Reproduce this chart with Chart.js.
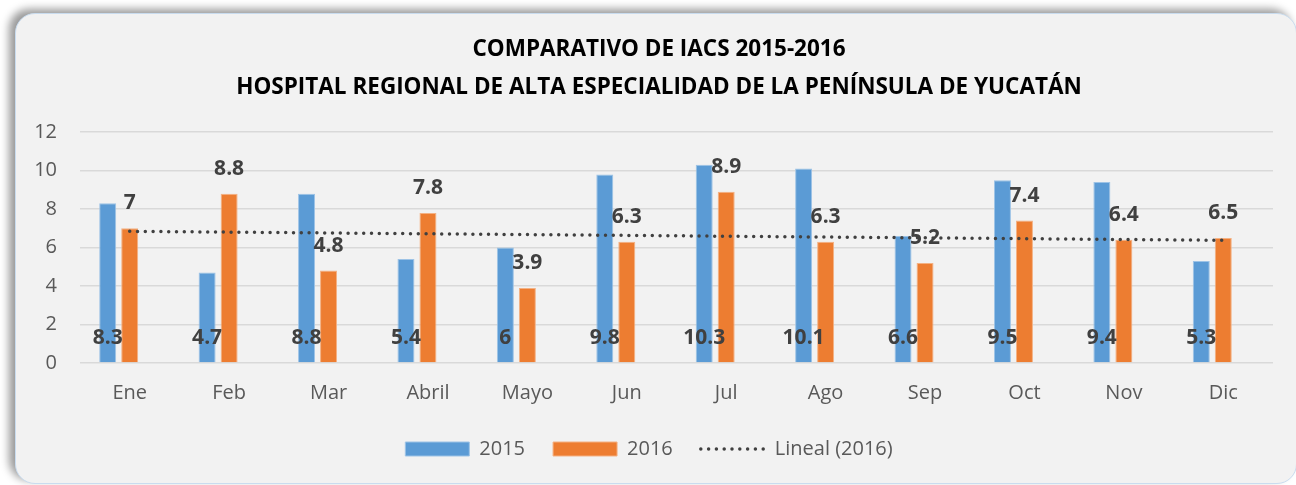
<!DOCTYPE html>
<html>
<head>
<meta charset="utf-8">
<script src="https://cdn.jsdelivr.net/npm/chart.js@4"></script>
<style>
  html, body { margin: 0; padding: 0; background: #ffffff; }
  .frame {
    position: absolute;
    left: 15px;
    top: 13px;
    width: 1280px;
    height: 469px;
    background: #f2f2f2;
    border: 1px solid #c9dcef;
    border-radius: 20px;
    box-shadow: -6px -4px 8px rgba(0, 0, 0, 0.4);
  }
  #chart { position: absolute; left: 0; top: 0; }
</style>
</head>
<body>
<div class="frame"></div>
<canvas id="chart" width="1296" height="485"></canvas>
<script>
const months = ["Ene", "Feb", "Mar", "Abril", "Mayo", "Jun", "Jul", "Ago", "Sep", "Oct", "Nov", "Dic"];
const values2015 = [8.3, 4.7, 8.8, 5.4, 6, 9.8, 10.3, 10.1, 6.6, 9.5, 9.4, 5.3];
const values2016 = [7, 8.8, 4.8, 7.8, 3.9, 6.3, 8.9, 6.3, 5.2, 7.4, 6.4, 6.5];
const yTicks = [0, 2, 4, 6, 8, 10, 12];
const titleLines = [
  "COMPARATIVO DE IACS 2015-2016",
  "HOSPITAL REGIONAL DE ALTA ESPECIALIDAD DE LA PENÍNSULA DE YUCATÁN",
];

// linear trendline of 2016 (same as Excel "Lineal")
const linearTrend = (ys) => {
  const n = ys.length;
  let sx = 0, sy = 0, sxy = 0, sxx = 0;
  ys.forEach((y, i) => {
    const x = i + 1;
    sx += x; sy += y; sxy += x * y; sxx += x * x;
  });
  const slope = (n * sxy - sx * sy) / (n * sxx - sx * sx);
  const icpt = (sy - slope * sx) / n;
  return ys.map((y, i) => icpt + slope * (i + 1));
};

const FONT = "'Open Sans', sans-serif";
const DOTS = [0, 7.8];

// value labels: 2015 near the base of the bar, 2016 above the bar
const valueLabels = {
  id: "valueLabels",
  afterLayout(chart) {
    // Excel puts the legend a bit left of the middle and closer to the axis
    chart.legend.left -= 10;
    chart.legend.right -= 10;
    chart.legend.top -= 12;
    chart.legend.bottom -= 12;
  },
  afterDatasetsDraw(chart) {
    const ctx = chart.ctx;
    const y0 = chart.scales.y.getPixelForValue(0);
    ctx.save();
    ctx.font = "bold 21px " + FONT;
    ctx.fillStyle = "#404040";
    ctx.textAlign = "center";
    ctx.textBaseline = "middle";
    chart.getDatasetMeta(0).data.forEach((bar, i) => {
      ctx.fillText(String(values2015[i]), bar.x, y0 - 25);
    });
    chart.getDatasetMeta(1).data.forEach((bar, i) => {
      ctx.fillText(String(values2016[i]), bar.x, bar.y - 25);
    });
    ctx.restore();
  },
};

const chart = document.getElementById("chart");
const data = {
  labels: months,
  datasets: [
    {
      type: "bar",
      label: "2015",
      data: values2015,
      backgroundColor: "#5b9bd5",
      borderColor: "#9dc3e6",
      borderWidth: 1,
      order: 2,
    },
    {
      type: "bar",
      label: "2016",
      data: values2016,
      backgroundColor: "#ed7d31",
      borderColor: "#f4b183",
      borderWidth: 1,
      order: 2,
    },
    {
      // empty third column, keeps the Excel spacing
      type: "bar",
      label: "",
      data: months.map(() => null),
      backgroundColor: "rgba(0,0,0,0)",
      order: 3,
    },
    {
      type: "line",
      label: "Lineal (2016)",
      data: linearTrend(values2016),
      borderColor: "#404040",
      borderWidth: 3.5,
      borderDash: DOTS,
      borderCapStyle: "round",
      pointRadius: 0,
      fill: false,
      order: 1,
    },
  ],
};

const config = {
  data: data,
  options: {
    responsive: false,
    animation: false,
    datasets: {
      bar: {
        categoryPercentage: 0.664,
        barPercentage: 0.773,
      },
    },
    layout: {
      padding: { left: 30, right: 8, top: 18, bottom: 4 },
    },
    scales: {
      x: {
        grid: { display: false, drawTicks: false },
        border: { display: false },
        ticks: {
          color: "#595959",
          font: { family: FONT, size: 20, lineHeight: 1.3 },
          padding: 17,
        },
      },
      y: {
        min: 0,
        max: 12,
        afterFit: (scale) => { scale.width = 50; },
        afterBuildTicks: (scale) => {
          scale.ticks = yTicks.map((v) => ({ value: v }));
        },
        grid: { color: "#d9d9d9", lineWidth: 1.5, drawTicks: false },
        border: { display: false },
        ticks: {
          color: "#595959",
          font: { family: FONT, size: 20 },
          padding: 23,
        },
      },
      // empty right axis, only reserves the gap on the right side
      y2: {
        position: "right",
        grid: { display: false, drawTicks: false },
        border: { display: false },
        ticks: { display: false },
        afterFit: (scale) => { scale.width = 15; },
      },
    },
    plugins: {
      title: {
        display: true,
        text: titleLines,
        color: "#000000",
        font: { family: FONT, size: 22.5, weight: "bold", lineHeight: 1.69 },
        padding: { top: 13, bottom: 25 },
      },
      legend: {
        position: "bottom",
        labels: {
          color: "#595959",
          font: { family: FONT, size: 20 },
          usePointStyle: true,
          pointStyleWidth: 64,
          boxHeight: 14,
          padding: 28,
          sort: (a, b) => a.datasetIndex - b.datasetIndex,
          generateLabels: (c) => {
            const items = Chart.defaults.plugins.legend.labels.generateLabels(c);
            return items
              .filter((it) => it.text !== "")
              .map((it) => {
                const ds = c.data.datasets[it.datasetIndex];
                if (ds.type === "line") {
                  it.pointStyle = "line";
                  it.lineDash = DOTS;
                  it.lineCap = "round";
                  it.lineWidth = 3.5;
                  it.strokeStyle = "#404040";
                } else {
                  it.pointStyle = "rect";
                }
                return it;
              });
          },
        },
      },
      tooltip: { enabled: false },
    },
  },
  plugins: [valueLabels],
};

new Chart(chart, config);
</script>
</body>
</html>
